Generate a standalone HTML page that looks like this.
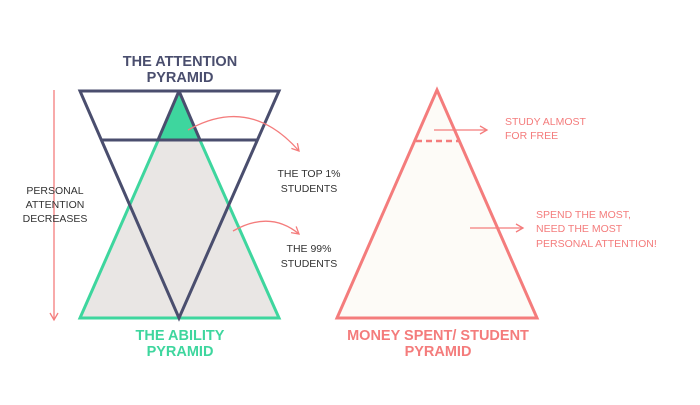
<!DOCTYPE html>
<html><head><style>
body{margin:0;background:#fff;}
svg{display:block;}
text{font-family:"Liberation Sans",sans-serif;}
</style></head><body>
<svg width="700" height="405" viewBox="0 0 700 405" xmlns="http://www.w3.org/2000/svg">
<defs>
<marker id="ah" markerWidth="10" markerHeight="10" refX="8" refY="5" orient="auto" markerUnits="userSpaceOnUse">
<path d="M1,1 L8,5 L1,9" fill="none" stroke="#f47c7c" stroke-width="1.3"/>
</marker>
</defs>
<!-- ability pyramid -->
<polygon points="179,93 80,318 279,318" fill="#e9e6e4" stroke="#3ed69e" stroke-width="3"/>
<polygon points="179,93 158,140 200,140" fill="#3ed69e"/>
<!-- attention pyramid -->
<polygon points="80,91 279,91 179,318" fill="none" stroke="#4a4e6e" stroke-width="3" stroke-linejoin="miter"/>
<line x1="101" y1="140" x2="257" y2="140" stroke="#4a4e6e" stroke-width="3"/>
<line x1="179" y1="91" x2="179" y2="93" stroke="#4a4e6e" stroke-width="3"/>
<polyline points="179,91 158,140" fill="none" stroke="#4a4e6e" stroke-width="3"/>
<polyline points="179,91 200,140" fill="none" stroke="#4a4e6e" stroke-width="3"/>
<!-- titles -->
<text x="180" y="66" font-size="14.5" fill="#4a4e6e" text-anchor="middle" font-weight="bold">THE ATTENTION</text>
<text x="180" y="82" font-size="14.5" fill="#4a4e6e" text-anchor="middle" font-weight="bold">PYRAMID</text>
<text x="180" y="340" font-size="14.5" fill="#3ed69e" text-anchor="middle" font-weight="bold">THE ABILITY</text>
<text x="180" y="356" font-size="14.5" fill="#3ed69e" text-anchor="middle" font-weight="bold">PYRAMID</text>
<!-- vertical arrow -->
<line x1="54" y1="90" x2="54" y2="320" stroke="#f47c7c" stroke-width="1.3" marker-end="url(#ah)"/>
<text x="55" y="194" font-size="10.5" fill="#333" text-anchor="middle">PERSONAL</text>
<text x="55" y="208" font-size="10.5" fill="#333" text-anchor="middle">ATTENTION</text>
<text x="55" y="222" font-size="10.5" fill="#333" text-anchor="middle">DECREASES</text>
<!-- curved arrows -->
<path d="M188,130 Q250,95 299,151" fill="none" stroke="#f47c7c" stroke-width="1.3" marker-end="url(#ah)"/>
<path d="M233,231 Q270,210 299,234" fill="none" stroke="#f47c7c" stroke-width="1.3" marker-end="url(#ah)"/>
<text x="309" y="177" font-size="10.5" fill="#333" text-anchor="middle">THE TOP 1%</text>
<text x="309" y="192" font-size="10.5" fill="#333" text-anchor="middle">STUDENTS</text>
<text x="309" y="252" font-size="10.5" fill="#333" text-anchor="middle">THE 99%</text>
<text x="309" y="267" font-size="10.5" fill="#333" text-anchor="middle">STUDENTS</text>
<!-- money pyramid -->
<polygon points="437,90 337,318 537,318" fill="#fdfbf7" stroke="#f47c7c" stroke-width="3"/>
<line x1="416" y1="141" x2="459" y2="141" stroke="#f47c7c" stroke-width="2.5" stroke-dasharray="6,4"/>
<line x1="434" y1="130" x2="487" y2="130" stroke="#f47c7c" stroke-width="1.3" marker-end="url(#ah)"/>
<line x1="470" y1="228" x2="523" y2="228" stroke="#f47c7c" stroke-width="1.3" marker-end="url(#ah)"/>
<text x="505" y="125" font-size="10.5" fill="#f47c7c">STUDY ALMOST</text>
<text x="505" y="139" font-size="10.5" fill="#f47c7c">FOR FREE</text>
<text x="536" y="218" font-size="10.5" fill="#f47c7c">SPEND THE MOST,</text>
<text x="536" y="232" font-size="10.5" fill="#f47c7c">NEED THE MOST</text>
<text x="536" y="247" font-size="10.5" fill="#f47c7c">PERSONAL ATTENTION!</text>
<text x="438" y="340" font-size="14.5" fill="#f47c7c" text-anchor="middle" font-weight="bold">MONEY SPENT/ STUDENT</text>
<text x="438" y="356" font-size="14.5" fill="#f47c7c" text-anchor="middle" font-weight="bold">PYRAMID</text>
</svg>
</body></html>
